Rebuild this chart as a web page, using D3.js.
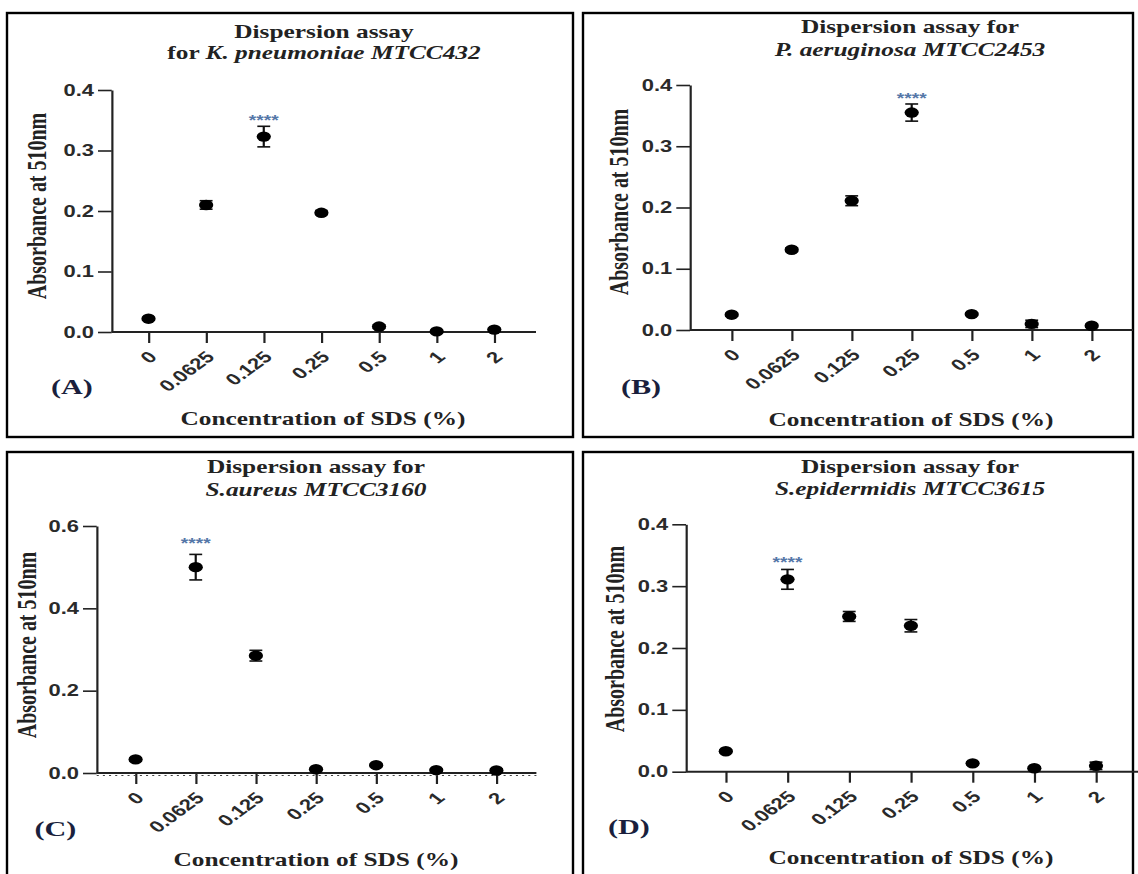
<!DOCTYPE html>
<html>
<head>
<meta charset="utf-8">
<script src="https://cdn.jsdelivr.net/npm/d3@7"></script>
<style>
  body { margin: 0; background: #fff; }
  svg { display: block; }
  .tick text { font-family: "Liberation Sans", Arial, sans-serif; font-weight: bold; font-size: 16px; fill: #2a2a2a; }
  .serif { font-family: "Liberation Serif", "Times New Roman", serif; font-weight: bold; fill: #222; }
</style>
</head>
<body>
<svg id="fig" width="1138" height="874"></svg>
<script>
// SDS concentrations (%) on the x axis
const concentrations = ["0", "0.0625", "0.125", "0.25", "0.5", "1", "2"];

// absorbance at 510nm, mean and SD
const kpneuMean = [0.022, 0.210, 0.323, 0.197, 0.009, 0.001, 0.004];
const kpneuSd   = [0.002, 0.007, 0.017, 0.003, 0.003, 0.001, 0.002];
const paerMean  = [0.025, 0.131, 0.211, 0.355, 0.026, 0.010, 0.007];
const paerSd    = [0.002, 0.003, 0.008, 0.014, 0.002, 0.006, 0.002];
const saurMean  = [0.033, 0.500, 0.285, 0.009, 0.019, 0.007, 0.006];
const saurSd    = [0.003, 0.031, 0.013, 0.002, 0.002, 0.002, 0.004];
const sepiMean  = [0.033, 0.311, 0.251, 0.236, 0.0135, 0.0055, 0.0095];
const sepiSd    = [0.002, 0.016, 0.008, 0.010, 0.002, 0.002, 0.006];

const yTicksSmall = [0, 0.1, 0.2, 0.3, 0.4];
const yTicksLarge = [0, 0.2, 0.4, 0.6];

// the source image is stretched horizontally, so each panel is drawn squeezed and scaled back out
const SX = 1.37;
const X = a => a / SX;

const panels = [
  {
    letter: "(A)", mean: kpneuMean, sd: kpneuSd, yMax: 0.4, yTicks: yTicksSmall, star: 2, starGap: 1,
    title1: [["Dispersion assay", false]], title2: [["for ", false], ["K. pneumoniae MTCC432", true]],
    box: [7, 13, 573, 437], ax: 111.7, axEnd: 536, t0: 148.5, t6: 494.3, y0: 332, yTop: 90,
    titleX: 324, titleY: [38, 59.5], xlab: [323, 425], ylab: [45.8, 206], letterPos: [51, 394]
  },
  {
    letter: "(B)", mean: paerMean, sd: paerSd, yMax: 0.4, yTicks: yTicksSmall, star: 3, starGap: 1,
    title1: [["Dispersion assay for", false]], title2: [["P. aeruginosa MTCC2453", true]],
    box: [583, 13, 1133, 437], ax: 690, axEnd: 1133, t0: 731.7, t6: 1091.7, y0: 330, yTop: 85,
    titleX: 910, titleY: [33.5, 56], xlab: [911, 426], ylab: [628, 202], letterPos: [621, 394]
  },
  {
    letter: "(C)", mean: saurMean, sd: saurSd, yMax: 0.6, yTicks: yTicksLarge, star: 1, starGap: 6, dotted: true,
    title1: [["Dispersion assay for", false]], title2: [["S.aureus MTCC3160", true]],
    box: [7, 452, 573, 900], ax: 96.7, axEnd: 536.4, t0: 135.6, t6: 496.4, y0: 773, yTop: 526,
    titleX: 316, titleY: [473.5, 496.5], xlab: [316, 866], ylab: [36.4, 645], letterPos: [34.5, 836]
  },
  {
    letter: "(D)", mean: sepiMean, sd: sepiSd, yMax: 0.4, yTicks: yTicksSmall, star: 1, starGap: 2,
    title1: [["Dispersion assay for", false]], title2: [["S.epidermidis MTCC3615", true]],
    box: [583, 452, 1133, 900], ax: 686, axEnd: 1138, t0: 725.8, t6: 1096, y0: 771.7, yTop: 524.3,
    titleX: 910, titleY: [473, 495], xlab: [911, 864], ylab: [624.3, 639], letterPos: [608, 834]
  }
];

const svg = d3.select("#fig");

panels.forEach(p => {
  svg.append("rect")
    .attr("x", p.box[0]).attr("y", p.box[1])
    .attr("width", p.box[2] - p.box[0]).attr("height", p.box[3] - p.box[1])
    .attr("fill", "none").attr("stroke", "#000").attr("stroke-width", 2.4);

  const g = svg.append("g").attr("transform", `scale(${SX},1)`);

  const x = d3.scalePoint().domain(concentrations).range([X(p.t0), X(p.t6)]);
  const y = d3.scaleLinear().domain([0, p.yMax]).range([p.y0, p.yTop]);

  // titles
  [p.title1, p.title2].forEach((parts, i) => {
    const t = g.append("text").attr("class", "serif")
      .attr("x", X(p.titleX)).attr("y", p.titleY[i])
      .attr("text-anchor", "middle").style("font-size", "18.5px");
    parts.forEach(([s, it]) => t.append("tspan").style("font-style", it ? "italic" : "normal").text(s));
  });

  // y axis
  const yAxis = g.append("g")
    .attr("transform", `translate(${X(p.ax)},0)`)
    .call(d3.axisLeft(y).tickValues(p.yTicks).tickFormat(d3.format(".1f")).tickSize(10).tickPadding(3).tickSizeOuter(0));
  yAxis.selectAll("path, line").attr("stroke", "#222").attr("stroke-width", 1.6);

  // x axis: line runs from the y axis to the right, ticks on category points
  const xAxis = g.append("g")
    .attr("transform", `translate(0,${p.y0})`)
    .call(d3.axisBottom(x).tickSize(11).tickSizeOuter(0));
  xAxis.select(".domain").remove();
  xAxis.selectAll("line").attr("stroke", "#222").attr("stroke-width", 1.6);
  xAxis.selectAll("text")
    .attr("x", 0).attr("y", 0).attr("dy", 0)
    .attr("transform", "translate(6.5,26) rotate(-45)")
    .style("text-anchor", "end");
  g.append("line")
    .attr("x1", X(p.ax)).attr("x2", X(p.axEnd))
    .attr("y1", p.y0).attr("y2", p.y0)
    .attr("stroke", "#222").attr("stroke-width", 2);
  if (p.dotted) {
    g.append("line")
      .attr("x1", X(p.ax)).attr("x2", X(p.axEnd))
      .attr("y1", p.y0 + 2.5).attr("y2", p.y0 + 2.5)
      .attr("stroke", "#444").attr("stroke-width", 1.2).attr("stroke-dasharray", "1.5,3");
  }

  const pts = concentrations.map((c, i) => ({ c: c, m: p.mean[i], s: p.sd[i] }));

  // error bars
  const eb = g.append("g").selectAll("g").data(pts).enter().append("g");
  eb.append("line")
    .attr("x1", d => x(d.c)).attr("x2", d => x(d.c))
    .attr("y1", d => y(d.m - d.s)).attr("y2", d => y(d.m + d.s))
    .attr("stroke", "#111").attr("stroke-width", 1.6);
  [-1, 1].forEach(k => {
    eb.append("line")
      .attr("x1", d => x(d.c) - 4.7).attr("x2", d => x(d.c) + 4.7)
      .attr("y1", d => y(d.m + k * d.s)).attr("y2", d => y(d.m + k * d.s))
      .attr("stroke", "#111").attr("stroke-width", 1.6);
  });

  // means
  g.append("g").selectAll("circle").data(pts).enter().append("circle")
    .attr("cx", d => x(d.c)).attr("cy", d => y(d.m)).attr("r", 5.2)
    .attr("fill", "#000");

  // significance stars
  const sp = pts[p.star];
  g.append("text")
    .attr("x", x(sp.c)).attr("y", y(sp.m + sp.s) - p.starGap)
    .attr("text-anchor", "middle")
    .style("font-family", "Liberation Sans, Arial, sans-serif").style("font-weight", "bold")
    .style("font-size", "14px").style("fill", "#5577a8")
    .text("****");

  // axis titles
  g.append("text").attr("class", "serif")
    .attr("x", X(p.xlab[0])).attr("y", p.xlab[1])
    .attr("text-anchor", "middle").style("font-size", "18.5px")
    .text("Concentration of SDS (%)");
  g.append("text").attr("class", "serif")
    .attr("transform", `translate(${X(p.ylab[0])},${p.ylab[1]}) rotate(-90)`)
    .attr("text-anchor", "middle").style("font-size", "20px")
    .text("Absorbance at 510nm");

  // panel letter
  g.append("text").attr("class", "serif")
    .attr("x", X(p.letterPos[0])).attr("y", p.letterPos[1])
    .style("font-size", "22px").style("fill", "#1a1f3d")
    .text(p.letter);
});
</script>
</body>
</html>
